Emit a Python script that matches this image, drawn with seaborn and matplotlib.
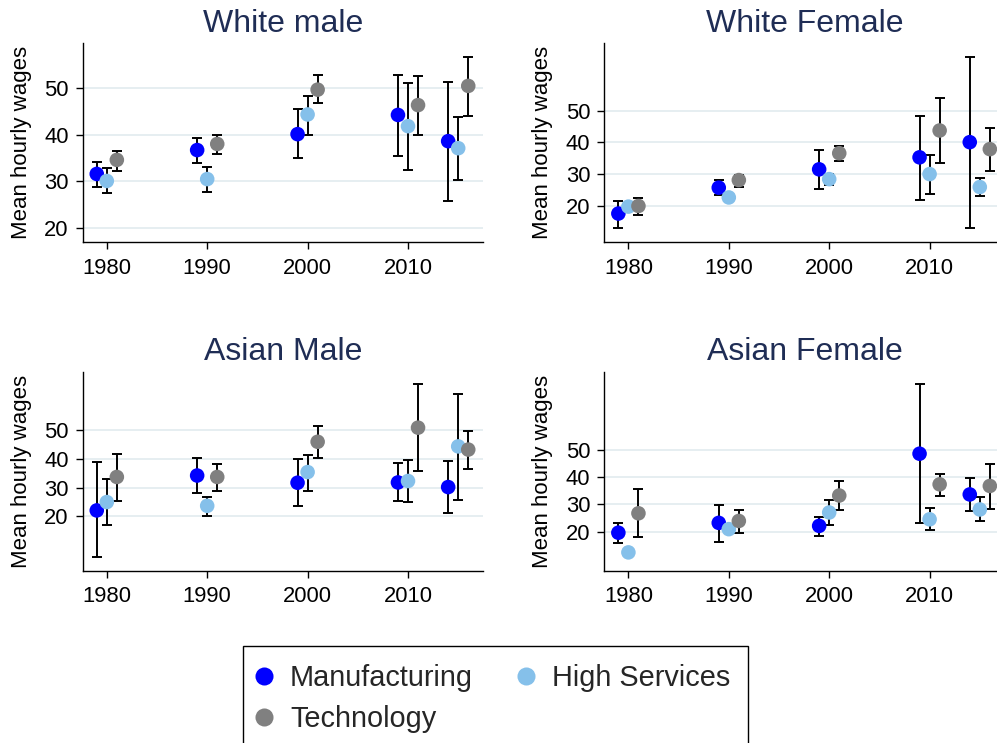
import matplotlib
matplotlib.use("Agg")
import matplotlib.pyplot as plt
from matplotlib.lines import Line2D
import seaborn as sns
import pandas as pd

# ---------------- data ----------------
years = [1980, 1990, 2000, 2010, 2015]
sectors = ["Manufacturing", "High Services", "Technology"]
titles = ["White male", "White Female", "Asian Male", "Asian Female"]

# White male
wm_manu = [31.6, 36.7, 40.1, 44.2, 38.6]
wm_manu_lo = [28.9, 34.0, 34.9, 35.4, 25.8]
wm_manu_hi = [34.2, 39.2, 45.5, 52.8, 51.3]
wm_hs = [30.1, 30.5, 44.3, 41.8, 37.1]
wm_hs_lo = [27.6, 27.8, 40.0, 32.4, 30.3]
wm_hs_hi = [32.8, 33.0, 48.2, 51.1, 43.7]
wm_tech = [34.6, 38.0, 49.6, 46.3, 50.4]
wm_tech_lo = [32.3, 35.9, 46.7, 40.0, 44.0]
wm_tech_hi = [36.5, 40.0, 52.7, 52.6, 56.6]

# White female
wf_manu = [17.5, 25.7, 31.5, 35.3, 40.1]
wf_manu_lo = [12.8, 23.3, 25.4, 21.8, 12.8]
wf_manu_hi = [21.6, 28.1, 37.7, 48.5, 67.2]
wf_hs = [19.7, 22.6, 28.4, 30.0, 25.9]
wf_hs_lo = [19.0, 22.0, 26.5, 23.6, 23.1]
wf_hs_hi = [20.4, 23.2, 30.0, 36.1, 28.7]
wf_tech = [19.9, 28.1, 36.6, 43.8, 37.9]
wf_tech_lo = [17.1, 26.0, 34.2, 33.4, 31.0]
wf_tech_hi = [22.4, 29.7, 39.0, 54.0, 44.5]

# Asian male
am_manu = [22.1, 34.2, 31.7, 31.8, 30.2]
am_manu_lo = [6.1, 28.1, 23.5, 25.3, 21.3]
am_manu_hi = [38.9, 40.3, 39.8, 38.5, 39.1]
am_hs = [25.0, 23.7, 35.4, 32.3, 44.3]
am_hs_lo = [16.9, 20.3, 28.8, 24.9, 25.7]
am_hs_hi = [33.1, 26.7, 41.4, 39.7, 62.6]
am_tech = [33.7, 33.7, 45.9, 50.8, 43.2]
am_tech_lo = [25.2, 29.0, 40.2, 35.9, 36.3]
am_tech_hi = [41.7, 38.1, 51.5, 65.8, 49.8]

# Asian female
af_manu = [19.6, 23.2, 22.1, 48.5, 33.6]
af_manu_lo = [15.9, 16.1, 18.4, 23.2, 27.4]
af_manu_hi = [23.3, 29.9, 25.3, 73.9, 39.7]
af_hs = [12.4, 20.9, 27.0, 24.5, 28.1]
af_hs_lo = [11.8, 20.3, 22.3, 20.6, 23.8]
af_hs_hi = [13.0, 21.5, 31.6, 28.6, 32.6]
af_tech = [26.7, 23.9, 33.2, 37.3, 36.7]
af_tech_lo = [18.1, 19.5, 27.8, 33.2, 28.2]
af_tech_hi = [35.6, 28.0, 38.6, 41.2, 44.6]

yticks = [20, 30, 40, 50]
xticks = [1980, 1990, 2000, 2010]

# ---------------- table ----------------
panel_data = {
    "White male": [(wm_manu, wm_manu_lo, wm_manu_hi), (wm_hs, wm_hs_lo, wm_hs_hi), (wm_tech, wm_tech_lo, wm_tech_hi)],
    "White Female": [(wf_manu, wf_manu_lo, wf_manu_hi), (wf_hs, wf_hs_lo, wf_hs_hi), (wf_tech, wf_tech_lo, wf_tech_hi)],
    "Asian Male": [(am_manu, am_manu_lo, am_manu_hi), (am_hs, am_hs_lo, am_hs_hi), (am_tech, am_tech_lo, am_tech_hi)],
    "Asian Female": [(af_manu, af_manu_lo, af_manu_hi), (af_hs, af_hs_lo, af_hs_hi), (af_tech, af_tech_lo, af_tech_hi)],
}
dodge = {"Manufacturing": -1.0, "High Services": 0.0, "Technology": 1.0}
rows = []
for t in titles:
    for s, (m, lo, hi) in zip(sectors, panel_data[t]):
        for yr, mv, lv, hv in zip(years, m, lo, hi):
            rows.append(dict(panel=t, sector=s, year=yr, xpos=yr + dodge[s],
                             wage=mv, lo=lv, hi=hv))
df = pd.DataFrame(rows)

# ---------------- style ----------------
sns.set_style("white")
plt.rcParams["font.family"] = ["Liberation Sans", "DejaVu Sans"]

palette = {"Manufacturing": "#0000ff", "High Services": "#85c0ea", "Technology": "#808080"}
title_color = "#1f2d55"
grid_color = "#e4edf0"

W, H = 997, 743
fig = plt.figure(figsize=(W / 100, H / 100), dpi=100)
fig.patch.set_facecolor("white")

# axes rectangles in pixels: left, top, width, height
ax_w, ax_h = 400.6, 199.0
rects = [(82.7, 43.3), (604.3, 43.3), (82.7, 371.7), (604.3, 371.7)]
ylims = {"White male": (17.0, 59.5), "White Female": (8.4, 71.4),
         "Asian Male": (1.2, 70.2), "Asian Female": (5.7, 78.5)}

for t, (lx, ty) in zip(titles, rects):
    ax = fig.add_axes([lx / W, 1 - (ty + ax_h) / H, ax_w / W, ax_h / H])
    sub = df[df.panel == t]
    ax.errorbar(sub.xpos, sub.wage, yerr=[sub.wage - sub.lo, sub.hi - sub.wage],
                fmt="none", ecolor="black", elinewidth=1.4, capsize=3.8,
                capthick=1.4, zorder=2)
    sns.scatterplot(data=sub, x="xpos", y="wage", hue="sector", hue_order=sectors,
                    palette=palette, s=110, linewidth=0, edgecolor="none",
                    legend=False, ax=ax, zorder=3)
    ax.set_xlim(1977.6, 2017.5)
    ax.set_ylim(*ylims[t])
    ax.set_xticks(xticks)
    ax.set_yticks(yticks)
    ax.set_xticklabels([str(v) for v in xticks])
    ax.set_yticklabels([str(v) for v in yticks])
    for yv in yticks:
        ax.axhline(yv, color=grid_color, lw=1.3, zorder=0)
    ax.set_xlabel("")
    ax.set_ylabel("Mean hourly wages", fontsize=16, labelpad=9, color="black")
    ax.set_title(t, fontsize=23, color=title_color, pad=8.3)
    for sp in ["top", "right"]:
        ax.spines[sp].set_visible(False)
    for sp in ["left", "bottom"]:
        ax.spines[sp].set_color("black")
        ax.spines[sp].set_linewidth(1.0)
    ax.tick_params(axis="both", which="major", direction="out", length=5, width=1,
                   color="black", labelsize=15.8, labelcolor="black", left=True, bottom=True)
    ax.tick_params(axis="y", pad=5.0)
    ax.tick_params(axis="x", pad=6.0)

# ---------------- legend ----------------
handles = {s: Line2D([], [], linestyle="none", marker="o", markersize=13,
                     markerfacecolor=palette[s], markeredgecolor="none") for s in sectors}
order = ["Manufacturing", "Technology", "High Services"]
leg = fig.legend([handles[s] for s in order], order, ncol=2, loc="upper left",
                 bbox_to_anchor=(243.3 / W, 1 - 645.7 / H), frameon=True,
                 fancybox=False, shadow=False, framealpha=1, edgecolor="black",
                 fontsize=20.8, borderpad=0.62, labelspacing=0.48, handlelength=0.2,
                 handletextpad=0.8, columnspacing=1.74, borderaxespad=0)
leg.get_frame().set_linewidth(1.0)

fig.savefig("out.png", dpi=100)
